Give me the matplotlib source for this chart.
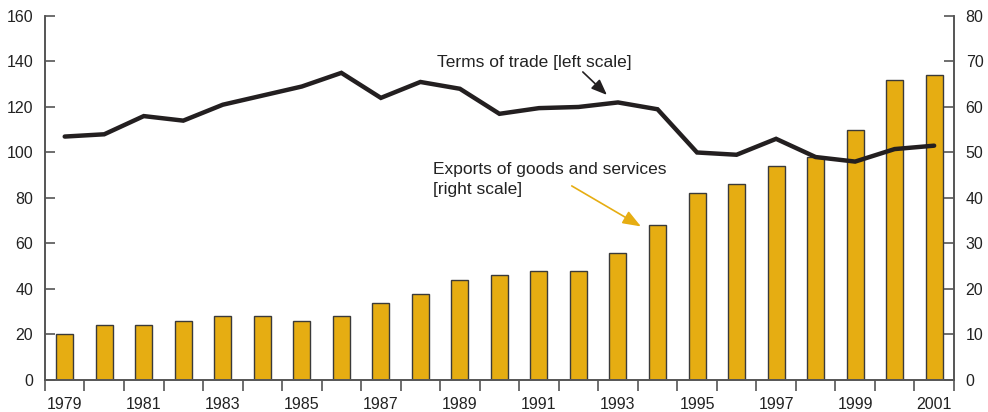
import numpy as np
import matplotlib
matplotlib.use("Agg")
import matplotlib.pyplot as plt
from matplotlib.ticker import FixedLocator, NullFormatter, FixedFormatter

plt.rcParams['font.family'] = ['Liberation Sans', 'DejaVu Sans']

years = list(range(1979, 2002))
# Exports of goods and services (right scale)
exports = [10, 12, 12, 13, 14, 14, 13, 14, 17, 19, 22, 23, 24, 24, 28, 34,
           41, 43, 47, 49, 55, 66, 67]
# Terms of trade (left scale)
terms = [107, 108, 116, 114, 121, 125, 129, 135, 124, 131, 128, 117, 119.5, 120,
         122, 119, 100, 99, 106, 98, 96, 101.5, 103]
left_ticks = [0, 20, 40, 60, 80, 100, 120, 140, 160]
right_ticks = [0, 10, 20, 30, 40, 50, 60, 70, 80]

BAR = '#E6AD12'
LINE = '#231F20'
AXC = '#555555'
TXT = '#222222'

fig = plt.figure(figsize=(9.88, 4.12), dpi=100)
ax = fig.add_axes([0.0455, 0.0777, 0.92, 0.8835])
ax2 = ax.twinx()

x = np.arange(len(years))
ax2.bar(x, exports, width=0.43, color=BAR, edgecolor='#3a3a3a', linewidth=1.0)
ax.plot(x, terms, color=LINE, linewidth=3.2, solid_capstyle='round', solid_joinstyle='miter')

# line above the bars
ax.set_zorder(ax2.get_zorder() + 1)
ax.patch.set_visible(False)

ax.set_xlim(-0.5, len(years) - 0.5)
ax.set_ylim(0, 160)
ax2.set_ylim(0, 80)
ax.set_yticks(left_ticks)
ax2.set_yticks(right_ticks)

# x axis: tick marks between years, labels every second year
ax.xaxis.set_major_locator(FixedLocator(np.arange(-0.5, len(years), 1.0)))
ax.xaxis.set_major_formatter(NullFormatter())
lab_pos = x[::2]
ax.xaxis.set_minor_locator(FixedLocator(lab_pos))
ax.xaxis.set_minor_formatter(FixedFormatter([str(years[i]) for i in lab_pos]))
ax.tick_params(axis='x', which='major', direction='out', length=8, width=1.2, color=AXC)
ax.tick_params(axis='x', which='minor', length=0, pad=12, labelsize=11.5, labelcolor=TXT)

for a in (ax, ax2):
    a.spines['top'].set_visible(False)
    for s in ('left', 'right', 'bottom'):
        a.spines[s].set_color(AXC)
        a.spines[s].set_linewidth(1.2)
ax.tick_params(axis='y', direction='in', length=7, width=1.2, color=AXC,
               labelsize=11.5, labelcolor=TXT, pad=8.5)
ax2.tick_params(axis='y', direction='in', length=7, width=1.2, color=AXC,
                labelsize=11.5, labelcolor=TXT, pad=8.5)

ax.text(9.42, 137.7, 'Terms of trade [left scale]', fontsize=12.5, color=TXT,
        va='baseline', ha='left')
ax.annotate('', xy=(13.72, 125.3), xytext=(13.11, 135.4),
            arrowprops=dict(arrowstyle='-|>,head_length=0.95,head_width=0.38',
                            color=LINE, linewidth=1.2, shrinkA=0, shrinkB=0))

ax.text(9.31, 81.8, 'Exports of goods and services\n[right scale]', fontsize=12.5,
        color=TXT, va='baseline', ha='left', linespacing=1.4)
ax.annotate('', xy=(14.58, 67.5), xytext=(12.83, 85.3),
            arrowprops=dict(arrowstyle='-|>,head_length=1.1,head_width=0.42',
                            color=BAR, linewidth=1.2, shrinkA=0, shrinkB=0))

fig.savefig('out.png', dpi=100)
